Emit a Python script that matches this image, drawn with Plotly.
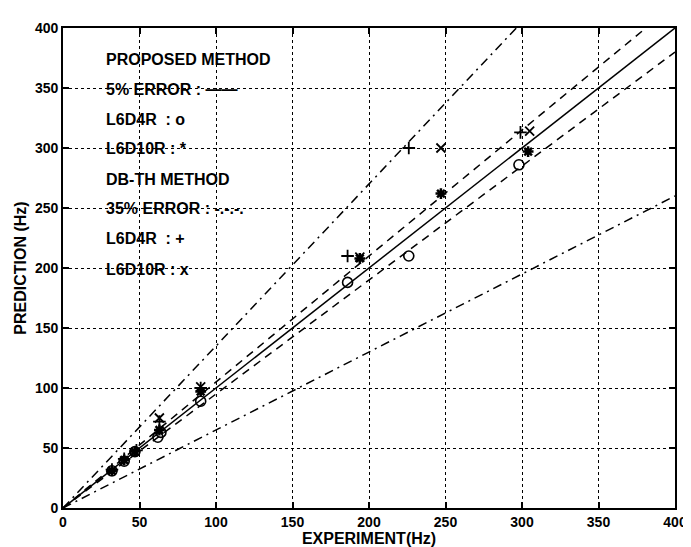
import plotly.graph_objects as go

# ---- data (Hz) ----
prop_l6d4r_x = [32, 40, 47, 62, 64, 90, 186, 226, 298]
prop_l6d4r_y = [31, 39, 47, 59, 63, 89, 188, 210, 286]

prop_l6d10r_x = [32, 40, 47, 63, 90, 194, 247, 304]
prop_l6d10r_y = [31, 40, 47, 65, 97, 208, 262, 297]

dbth_l6d4r_x = [32, 40, 48, 63, 90, 186, 226, 299]
dbth_l6d4r_y = [32, 41, 48, 72, 100, 210, 300, 313]

dbth_l6d10r_x = [63, 90, 194, 247, 305]
dbth_l6d10r_y = [75, 101, 209, 300, 314]

ref_ratio = 1.0
err5 = [1.05, 0.95]
err35 = [1.35, 0.65]
axis_max = 400
ticks = [0, 50, 100, 150, 200, 250, 300, 350, 400]

legend_lines = ["PROPOSED METHOD", "5% ERROR : \u2014\u2014", "L6D4R  : o", "L6D10R : *",
                "DB-TH METHOD", "35% ERROR : -.-.-.", "L6D4R  : +", "L6D10R : x"]
legend_y = [374, 349, 324, 300, 274, 250, 225, 199]

FONT = "Liberation Sans"

fig = go.Figure()

def ratio_line(r, dash):
    xe = min(axis_max, axis_max / r)
    fig.add_trace(go.Scatter(x=[0, xe], y=[0, r * xe], mode="lines",
                             line=dict(color="black", width=1.5, dash=dash),
                             showlegend=False, hoverinfo="skip"))

ratio_line(ref_ratio, "solid")
for r in err5:
    ratio_line(r, "8px,6px")
for r in err35:
    ratio_line(r, "9px,5px,2px,5px")

fig.add_trace(go.Scatter(x=prop_l6d4r_x, y=prop_l6d4r_y, mode="markers",
                         marker=dict(symbol="circle-open", size=10, color="black", line=dict(width=1.6)),
                         showlegend=False))
fig.add_trace(go.Scatter(x=prop_l6d10r_x, y=prop_l6d10r_y, mode="markers",
                         marker=dict(symbol="asterisk-open", size=9, color="black", line=dict(width=2.5)),
                         showlegend=False))
fig.add_trace(go.Scatter(x=dbth_l6d4r_x, y=dbth_l6d4r_y, mode="markers",
                         marker=dict(symbol="cross-thin-open", size=9, color="black", line=dict(width=1.8)),
                         showlegend=False))
fig.add_trace(go.Scatter(x=dbth_l6d10r_x, y=dbth_l6d10r_y, mode="markers",
                         marker=dict(symbol="x-thin-open", size=9, color="black", line=dict(width=1.8)),
                         showlegend=False))

for t, yy in zip(legend_lines, legend_y):
    fig.add_annotation(x=27, y=yy, xref="x", yref="y", text=t, showarrow=False,
                       xanchor="left", yanchor="middle",
                       font=dict(family=FONT, size=16, color="black", weight="bold"))

axis_common = dict(range=[0, axis_max], tickvals=ticks, showgrid=True,
                   gridcolor="black", griddash="dot", gridwidth=1,
                   showline=True, linecolor="black", linewidth=1.8, mirror="ticks",
                   ticks="inside", ticklen=6, tickcolor="black", tickwidth=1.5,
                   zeroline=False,
                   tickfont=dict(family=FONT, size=14, color="black", weight="bold"))

fig.update_xaxes(**axis_common, title=dict(text="EXPERIMENT(Hz)", standoff=2,
                 font=dict(family=FONT, size=16, color="black", weight="bold")))
fig.update_yaxes(**axis_common, title=dict(text="PREDICTION (Hz)", standoff=4,
                 font=dict(family=FONT, size=16, color="black", weight="bold")))

fig.update_layout(width=691, height=547, margin=dict(l=55, r=13, t=18, b=43),
                  plot_bgcolor="white", paper_bgcolor="white", showlegend=False)

fig.write_html("out.html")
